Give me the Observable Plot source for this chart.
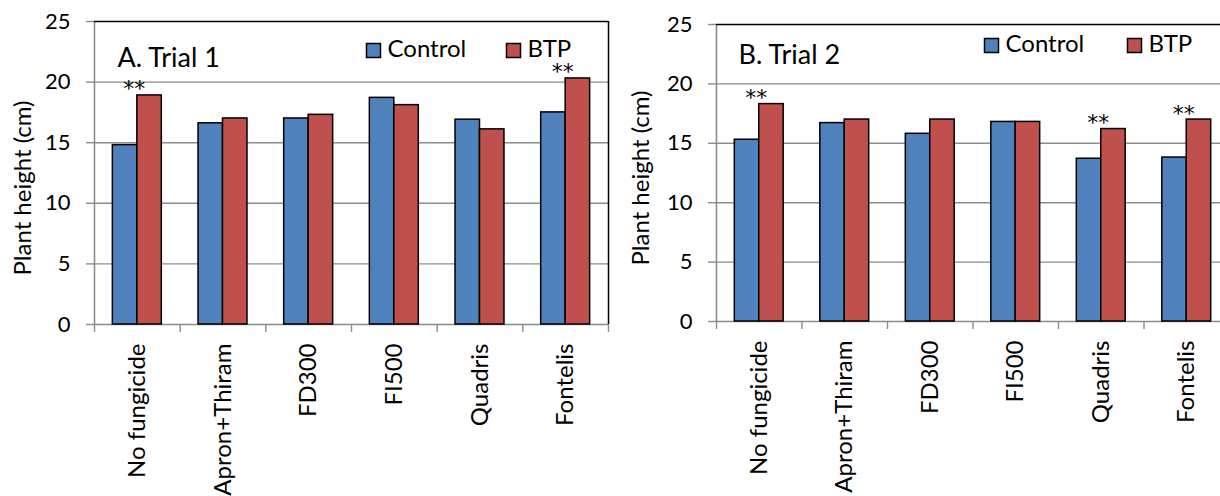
<!DOCTYPE html>
<html>
<head>
<meta charset="utf-8">
<script src="https://cdn.jsdelivr.net/npm/d3@7"></script>
<script src="https://cdn.jsdelivr.net/npm/@observablehq/plot@0.6"></script>
<style>
  body { margin: 0; background: #fff; }
  #wrap { position: relative; width: 1220px; height: 496px; overflow: hidden; background: #fff; }
  .panel { position: absolute; top: 0; height: 496px; width: 610px; overflow: hidden; }
</style>
</head>
<body>
<div id="wrap">
  <div id="panelA" class="panel" style="left:0"></div>
  <div id="panelB" class="panel" style="left:610px"></div>
</div>
<script>
// ---- data ----
const categories = ["No fungicide", "Apron+Thiram", "FD300", "FI500", "Quadris", "Fontelis"];
const seriesNames = ["Control", "BTP"];
const trial1Control = [14.8, 16.6, 17.0, 18.7, 16.9, 17.5];
const trial1BTP     = [18.9, 17.0, 17.3, 18.1, 16.1, 20.3];
const trial1Signif  = ["**", "", "", "", "", "**"];
const trial2Control = [15.3, 16.7, 15.8, 16.8, 13.7, 13.8];
const trial2BTP     = [18.3, 17.0, 17.0, 16.8, 16.2, 17.0];
const trial2Signif  = ["**", "", "", "", "**", "**"];
const yTicks = [0, 5, 10, 15, 20, 25];
const yLabel = "Plant height (cm)";

// ---- styles ----
const FONT = "Lato, 'Open Sans', sans-serif";
const colors = ["#4F81BD", "#C0504D"];
const gridColor = "#8c8c8c";
const gapWidth = 1.5; // Excel-style gap width (150%)

function panel(cfg) {
  const n = categories.length;
  const rows = [];
  categories.forEach((c, i) => {
    rows.push({i, cat: c, series: "Control", value: cfg.control[i]});
    rows.push({i, cat: c, series: "BTP", value: cfg.btp[i]});
  });
  const sig = categories.map((c, i) => ({i, value: cfg.btp[i], mark: cfg.signif[i]})).filter(d => d.mark);
  const barW = 1 / (2 + gapWidth);
  const off = gapWidth * barW / 2;
  const x1 = d => d.i + off + (d.series === "BTP" ? barW : 0);
  const x2 = d => x1(d) + barW;

  return Plot.plot({
    width: cfg.width,
    height: 496,
    marginLeft: cfg.marginLeft,
    marginRight: 2,
    marginTop: cfg.marginTop,
    marginBottom: cfg.marginBottom,
    style: {fontFamily: FONT, fontSize: "22px", color: "#000", background: "transparent", maxWidth: "none", overflow: "visible"},
    x: {domain: [0, n], axis: null},
    y: {domain: [0, 25], axis: null},
    color: {domain: seriesNames, range: colors},
    marks: [
      // gridlines
      Plot.ruleY(yTicks.filter(t => t > 0 && t < 25), {stroke: gridColor, strokeWidth: 1.4}),
      // y ticks + labels
      Plot.axisY({ticks: yTicks, tickSize: 8, tickPadding: 16, fontSize: "22px", stroke: gridColor, strokeWidth: 1.4, label: null}),
      // left axis line
      Plot.ruleX([0], {y1: 0, y2: 25, stroke: gridColor, strokeWidth: 1.6}),
      // bottom axis line
      Plot.ruleY([0], {stroke: gridColor, strokeWidth: 1.6}),
      // category boundary ticks
      Plot.axisX({ticks: d3.range(0, n + 1), tickSize: 8, tickFormat: () => "", stroke: gridColor, strokeWidth: 1.4, label: null}),
      // category labels
      Plot.axisX({ticks: categories.map((c, i) => i + 0.5), tickFormat: d => categories[Math.floor(d)], tickRotate: -90, tickSize: 0, tickPadding: 19, fontSize: "24px", label: null}),
      // top & right border
      Plot.ruleY([25], {stroke: "#000", strokeWidth: 1.5}),
      Plot.ruleX([n], {stroke: "#000", strokeWidth: 1.5}),
      // bars
      Plot.rect(rows, {x1, x2, y1: 0, y2: "value", fill: "series", stroke: "#000", strokeWidth: 1.5}),
      // significance marks
      Plot.text(sig, {x: d => d.i + 0.5, y: "value", text: "mark", lineAnchor: "bottom", textAnchor: "middle", dx: -3, dy: 1, fontSize: "22px", fontFamily: "'DejaVu Sans', sans-serif"}),
      // y label
      Plot.text([yLabel], {frameAnchor: "left", textAnchor: "middle", lineAnchor: "middle", rotate: -90, dx: cfg.yLabelDx, dy: cfg.yLabelDy, fontSize: "24px"}),
      // panel title
      Plot.text([cfg.title], {frameAnchor: "top-left", textAnchor: "start", lineAnchor: "middle", dx: cfg.titleDx, dy: cfg.titleDy, fontSize: "27px"}),
      // legend
      ...seriesNames.flatMap((s, k) => [
        Plot.dot([s], {frameAnchor: "top-left", dx: cfg.legendDx[k], dy: cfg.legendDy, symbol: "square", r: 7.9, fill: d => d, stroke: "#000", strokeWidth: 1.5}),
        Plot.text([s], {frameAnchor: "top-left", textAnchor: "start", lineAnchor: "middle", dx: cfg.legendDx[k] + 14, dy: cfg.legendDy - 1, fontSize: "24px"})
      ])
    ]
  });
}

document.getElementById("panelA").appendChild(panel({
  title: "A. Trial 1", control: trial1Control, btp: trial1BTP, signif: trial1Signif,
  width: 610, marginLeft: 94, marginTop: 21, marginBottom: 172,
  yLabelDx: -71, yLabelDy: 15, titleDx: 23, titleDy: 37, legendDx: [279, 419], legendDy: 29
}));
document.getElementById("panelB").appendChild(panel({
  title: "B. Trial 2", control: trial2Control, btp: trial2BTP, signif: trial2Signif,
  width: 621, marginLeft: 106, marginTop: 24, marginBottom: 175,
  yLabelDx: -75, yLabelDy: 5, titleDx: 22, titleDy: 31, legendDx: [275, 418], legendDy: 21
}));
</script>
</body>
</html>
